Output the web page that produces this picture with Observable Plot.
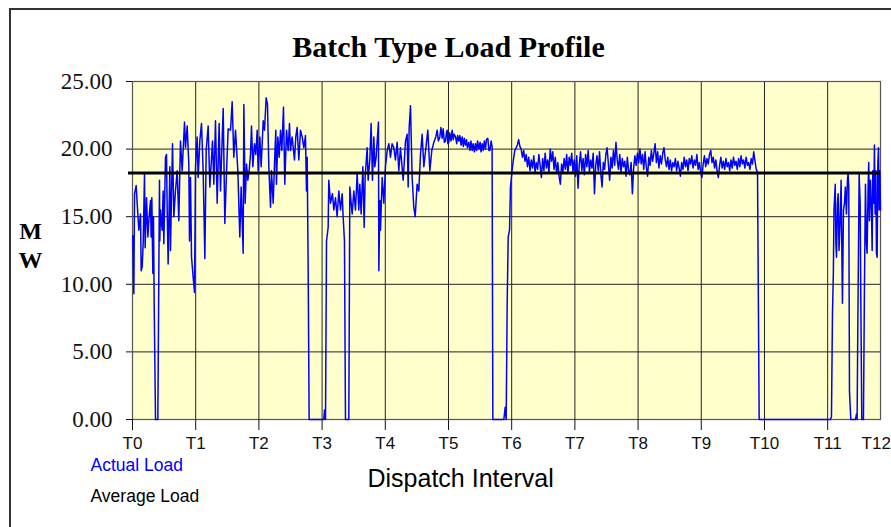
<!DOCTYPE html>
<html><head><meta charset="utf-8">
<script src="https://cdn.jsdelivr.net/npm/d3@7"></script>
<script src="https://cdn.jsdelivr.net/npm/@observablehq/plot@0.6"></script>
<style>
body{margin:0;background:#fff;}
#wrap{position:relative;width:891px;height:527px;overflow:hidden;}
#border{position:absolute;left:9px;top:8px;width:1000px;height:1000px;border:2px solid #333;box-sizing:border-box;}
#chart{position:absolute;left:0;top:0;}
</style></head>
<body><div id="wrap"><div id="border"></div><div id="chart"></div></div>
<script>
const title = "Batch Type Load Profile";
const yLabel = ["M", "W"];
const xLabel = "Dispatch Interval";
const legendActual = "Actual Load";
const legendAverage = "Average Load";
const tickLabels = ["T0","T1","T2","T3","T4","T5","T6","T7","T8","T9","T10","T11","T12"];
const yTicks = [0, 5, 10, 15, 20, 25];
const xEnd = 11.836;
const averageLoad = 18.24;

// [interval, MW]
const batch1 = [[0.005,13.6],[0.021,9.3],[0.032,16.7],[0.058,17.3],[0.074,16.0],[0.100,14.0],[0.127,15.2],[0.137,11.0],[0.153,11.3],[0.169,13.0],[0.190,18.2],[0.200,12.7],[0.222,16.4],[0.243,13.5],[0.258,14.7],[0.285,16.2],[0.295,13.5],[0.306,16.4],[0.322,10.8],[0.332,15.0],[0.343,8.6],[0.364,0],[0.401,0],[0.417,11.0],[0.427,17.7],[0.432,13.2],[0.443,15.5],[0.469,14.0],[0.485,16.9],[0.496,13.0],[0.522,19.4],[0.538,19.6],[0.549,15.5],[0.564,11.5],[0.591,18.7],[0.601,12.5],[0.633,20.4],[0.654,15.0],[0.680,16.9],[0.707,18.4],[0.733,14.7],[0.759,20.6],[0.786,18.4],[0.823,22.0],[0.839,20.1],[0.865,21.7],[0.891,18.9],[0.902,13.2],[0.918,17.9],[0.934,12.0],[0.955,10.8],[0.981,9.4],[0.997,18.7],[1.023,20.9],[1.039,17.9],[1.065,20.6],[1.092,21.9],[1.118,18.4],[1.145,11.9],[1.166,19.9],[1.197,21.7],[1.224,17.2],[1.245,18.9],[1.266,20.6],[1.287,17.4],[1.313,22.1],[1.340,16.0],[1.371,21.9],[1.392,16.9],[1.435,23.0],[1.461,14.5],[1.487,18.2],[1.514,21.5],[1.551,21.4],[1.577,23.5],[1.603,19.4],[1.630,21.4],[1.667,18.4],[1.698,13.5],[1.719,17.2],[1.751,12.3],[1.762,23.3],[1.783,16.0],[1.804,18.9],[1.825,17.7],[1.846,18.4],[1.867,19.6],[1.883,21.7],[1.904,18.7],[1.930,20.4],[1.951,19.6],[1.973,21.4],[1.988,18.4],[2.015,20.9],[2.036,18.7],[2.068,22.1],[2.089,21.4],[2.115,23.8],[2.136,23.3],[2.157,18.7],[2.184,15.7],[2.199,18.4],[2.226,16.0],[2.252,19.6],[2.268,21.4],[2.278,17.4],[2.300,20.9],[2.321,19.4],[2.342,21.4],[2.363,19.9],[2.389,23.1],[2.410,17.4],[2.437,21.4],[2.463,19.9],[2.484,21.9],[2.500,19.9],[2.526,20.9],[2.563,19.2],[2.584,20.9],[2.605,21.6],[2.632,19.2],[2.658,21.4],[2.685,20.9],[2.711,20.1],[2.737,21.0],[2.753,16.9],[2.764,19.4],[2.780,11.0],[2.795,0],[3.027,0],[3.038,0.7],[3.054,0]];

const batch2 = [[3.070,13.2],[3.096,14.2],[3.106,17.7],[3.133,16.0],[3.164,16.7],[3.186,15.5],[3.212,16.4],[3.238,15.0],[3.265,16.9],[3.291,15.5],[3.318,16.7],[3.333,15.0],[3.354,13.2],[3.370,0],[3.423,0],[3.439,17.2],[3.460,16.0],[3.476,15.2],[3.502,16.9],[3.528,15.5],[3.555,18.2],[3.581,15.5],[3.597,17.4],[3.618,15.2],[3.645,18.7],[3.666,14.2],[3.681,17.9],[3.713,20.1],[3.729,17.7],[3.755,19.2],[3.776,21.9],[3.797,17.7],[3.819,20.9],[3.834,18.7],[3.855,19.4],[3.892,22.0],[3.898,11.0],[3.914,16.2],[3.924,14.0],[3.951,17.9],[3.977,16.0],[4.003,18.7],[4.030,19.9],[4.056,20.4],[4.082,19.4],[4.108,20.4],[4.135,20.1],[4.161,19.2],[4.188,20.5],[4.214,18.4],[4.240,20.1],[4.283,17.7],[4.320,20.6],[4.346,21.1],[4.362,17.2],[4.378,21.6],[4.399,23.2],[4.425,17.9],[4.451,15.7],[4.473,15.0],[4.504,17.4],[4.530,16.9],[4.557,19.6],[4.583,21.1],[4.610,18.7],[4.631,19.6],[4.673,21.4],[4.705,18.4],[4.736,19.9],[4.768,20.5],[4.800,20.9],[4.821,21.4],[4.840,20.6],[4.863,20.9],[4.880,21.6],[4.900,20.8],[4.916,21.5],[4.935,20.5],[4.953,20.6],[4.970,21.3],[4.979,21.4],[4.990,20.4],[5.005,20.5],[5.020,21.2],[5.040,20.6],[5.058,21.4],[5.075,20.7],[5.090,21.1],[5.111,20.9],[5.130,20.4],[5.145,21.0],[5.164,20.6],[5.180,21.0],[5.200,20.3],[5.216,20.9],[5.235,20.2],[5.250,20.8],[5.269,20.3],[5.285,20.7],[5.300,20.1],[5.322,20.5],[5.340,19.9],[5.355,20.6],[5.375,19.9],[5.390,20.4],[5.410,19.8],[5.427,20.4],[5.445,19.9],[5.460,20.6],[5.480,20.0],[5.500,20.5],[5.515,19.8],[5.533,20.4],[5.550,19.9],[5.567,20.6],[5.585,20.0],[5.600,20.7],[5.622,20.8],[5.640,19.9],[5.654,19.9],[5.675,20.6],[5.690,20.2],[5.702,0],[5.876,0],[5.897,0.9],[5.913,0],[5.929,8.6],[5.945,13.5],[5.966,14.0],[5.981,17.2]];

const batch3 = [[6.01,18.6],[6.03,19.3],[6.05,19.9],[6.07,20.1],[6.09,20.3],[6.11,20.7],[6.13,20.2],[6.15,20.0],[6.17,19.4],[6.19,19.9],[6.21,19.1],[6.23,19.6],[6.25,18.7],[6.27,19.4],[6.29,18.4],[6.31,19.2],[6.33,18.6],[6.35,19.5],[6.37,18.3],[6.39,19.0],[6.41,18.5],[6.43,19.6],[6.45,18.8],[6.47,17.9],[6.49,19.3],[6.51,18.4],[6.53,19.7],[6.55,18.6],[6.57,19.2],[6.59,18.3],[6.61,20.0],[6.63,19.1],[6.65,19.8],[6.67,18.5],[6.69,19.4],[6.71,18.2],[6.73,19.0],[6.75,18.0],[6.77,17.4],[6.79,18.9],[6.81,18.3],[6.83,19.3],[6.85,18.5],[6.87,19.6],[6.89,18.2],[6.91,19.4],[6.93,18.8],[6.95,19.7],[6.97,18.3],[6.99,19.2],[7.01,18.0],[7.03,19.5],[7.05,17.1],[7.07,18.9],[7.09,19.8],[7.11,18.4],[7.13,19.3],[7.15,18.1],[7.17,19.6],[7.19,18.7],[7.21,19.9],[7.23,18.3],[7.25,19.2],[7.27,18.6],[7.29,19.7],[7.31,16.7],[7.33,18.8],[7.35,19.5],[7.37,18.4],[7.39,19.8],[7.41,18.2],[7.43,17.2],[7.45,19.0],[7.47,18.5],[7.49,19.6],[7.51,20.1],[7.53,18.9],[7.55,17.7],[7.57,19.4],[7.59,18.6],[7.61,19.9],[7.63,18.8],[7.65,20.5],[7.67,19.2],[7.69,18.5],[7.71,19.6],[7.73,18.3],[7.75,19.3],[7.77,18.7],[7.79,19.1],[7.81,18.0],[7.83,19.4],[7.85,18.4],[7.87,18.1],[7.89,19.0],[7.91,16.7],[7.93,18.6],[7.95,19.5],[7.97,18.8],[7.99,19.7],[8.01,19.0],[8.03,20.0],[8.05,18.9],[8.07,19.6],[8.09,18.5],[8.11,19.8],[8.13,18.7],[8.15,18.0],[8.17,19.4],[8.19,18.8],[8.21,19.9],[8.23,19.1],[8.25,19.7],[8.27,20.4],[8.29,19.0],[8.31,19.8],[8.33,18.6],[8.35,19.5],[8.37,18.9],[8.39,19.7],[8.41,20.1],[8.43,19.2],[8.45,18.7],[8.47,19.4],[8.49,18.5],[8.51,19.2],[8.53,18.4],[8.55,19.0],[8.57,18.7],[8.59,19.3],[8.61,18.4],[8.63,19.1],[8.65,18.6],[8.67,18.0],[8.69,19.0],[8.71,18.5],[8.73,19.4],[8.75,18.7],[8.77,19.2],[8.79,18.4],[8.81,19.3],[8.83,18.9],[8.85,19.5],[8.87,18.6],[8.89,19.2],[8.91,18.8],[8.93,19.6],[8.95,18.5],[8.97,19.0],[8.99,18.3],[9.01,17.9],[9.03,18.9],[9.05,19.5],[9.07,18.7],[9.09,19.3],[9.11,18.9],[9.13,19.6],[9.15,19.9],[9.17,19.0],[9.19,19.4],[9.21,18.6],[9.23,19.2],[9.25,18.4],[9.27,17.9],[9.29,18.8],[9.31,19.4],[9.33,18.6],[9.35,19.1],[9.37,18.5],[9.39,19.3],[9.41,18.7],[9.43,19.0],[9.45,18.4],[9.47,19.2],[9.49,18.6],[9.51,19.4],[9.53,18.8],[9.55,19.1],[9.57,18.5],[9.59,19.3],[9.61,18.7],[9.63,19.5],[9.65,18.9],[9.67,19.2],[9.69,18.6],[9.71,19.4],[9.73,18.8],[9.75,19.0],[9.77,18.5],[9.79,19.3],[9.81,18.9],[9.83,19.8],[9.85,19.1],[9.87,18.5],[9.89,18.3],[9.916,0],[11.044,0]];

const batch4 = [[11.060,0.2],[11.076,7.8],[11.090,10.8],[11.100,15.5],[11.120,17.4],[11.130,13.0],[11.140,12.0],[11.155,16.0],[11.166,16.7],[11.180,12.5],[11.197,14.7],[11.213,17.7],[11.223,13.0],[11.234,8.6],[11.250,15.5],[11.266,16.0],[11.280,17.2],[11.297,15.2],[11.313,17.7],[11.323,18.2],[11.334,17.2],[11.345,2.1],[11.366,0],[11.440,0],[11.456,0.4],[11.466,0],[11.477,6.8],[11.498,18.2],[11.514,16.0],[11.525,8.6],[11.540,0],[11.566,0],[11.582,9.8],[11.598,17.4],[11.614,13.0],[11.624,12.3],[11.640,17.2],[11.650,19.0],[11.661,14.7],[11.677,17.7],[11.693,15.5],[11.704,12.5],[11.714,18.4],[11.730,16.0],[11.740,20.3],[11.751,15.2],[11.762,18.4],[11.772,12.3],[11.783,12.0],[11.794,18.9],[11.804,20.1],[11.815,15.5],[11.825,18.4],[11.836,15.5]];

const load = [...batch1, ...batch2, ...batch3, ...batch4].map(([t, mw]) => ({t, mw}));
const tickPos = tickLabels.map((_, i) => i);
const innerTicks = tickPos.slice(0, -1);

const serif = "'Liberation Serif', 'Times New Roman', serif";
const sans = "'Liberation Sans', Arial, sans-serif";

const chart = Plot.plot({
  width: 891, height: 527,
  marginLeft: 132, marginRight: 11, marginTop: 81, marginBottom: 108,
  style: {background: "transparent", overflow: "visible", color: "#111"},
  x: {domain: [0, xEnd], axis: null, label: null},
  y: {domain: [0, 25], axis: null, label: null},
  marks: [
    Plot.frame({fill: "#FFFFCC", stroke: null}),
    Plot.ruleY(yTicks, {stroke: "#222", strokeWidth: 1}),
    Plot.ruleX(innerTicks, {stroke: "#222", strokeWidth: 1}),
    Plot.frame({stroke: "#555", strokeWidth: 1.2}),
    Plot.axisY(yTicks, {tickSize: 6, tickPadding: 14, tickFormat: d => d.toFixed(2), fontSize: 23, fontFamily: serif, label: null}),
    Plot.axisX(innerTicks, {tickSize: 11, tickPadding: 6, tickFormat: i => tickLabels[i], fontSize: 17, fontFamily: sans, label: null}),
    Plot.text([tickPos[tickPos.length - 1]], {x: d => d, text: d => tickLabels[d], frameAnchor: "bottom", dy: 29, lineAnchor: "bottom", textAnchor: "end", fontSize: 17, fontFamily: sans, fill: "#111"}),
    Plot.line(load, {x: "t", y: "mw", stroke: "#0000FF", strokeWidth: 1.5}),
    Plot.ruleY([averageLoad], {stroke: "#000", strokeWidth: 3, insetLeft: -4}),
    Plot.text([title], {frameAnchor: "top-left", dx: 316, dy: -25, lineAnchor: "bottom", textAnchor: "middle", fontSize: 30, fontWeight: "bold", fontFamily: serif, fill: "#000"}),
    Plot.text([yLabel[0]], {frameAnchor: "top-left", dx: -102, dy: 157, lineAnchor: "bottom", textAnchor: "middle", fontSize: 24, fontWeight: "bold", fontFamily: serif, fill: "#000"}),
    Plot.text([yLabel[1]], {frameAnchor: "top-left", dx: -102, dy: 186, lineAnchor: "bottom", textAnchor: "middle", fontSize: 24, fontWeight: "bold", fontFamily: serif, fill: "#000"}),
    Plot.text([xLabel], {frameAnchor: "bottom-left", dx: 235, dy: 67, lineAnchor: "bottom", textAnchor: "start", fontSize: 25, fontFamily: sans, fill: "#000"}),
    Plot.text([legendActual], {frameAnchor: "bottom-left", dx: -42, dy: 51, lineAnchor: "bottom", textAnchor: "start", fontSize: 17.5, fontFamily: sans, fill: "#0000FF"}),
    Plot.text([legendAverage], {frameAnchor: "bottom-left", dx: -42, dy: 82, lineAnchor: "bottom", textAnchor: "start", fontSize: 17.5, fontFamily: sans, fill: "#000"})
  ]
});
document.getElementById("chart").appendChild(chart);
</script>
</body></html>
